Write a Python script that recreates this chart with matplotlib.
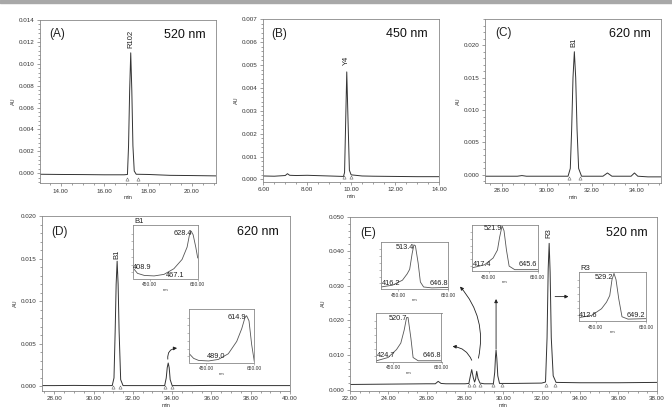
import matplotlib.pyplot as plt
from matplotlib.ticker import AutoMinorLocator
from matplotlib.patches import Rectangle

plt.rcParams['font.family'] = ['Liberation Sans', 'DejaVu Sans']

W, H = 672, 416

# ---- chromatogram traces (min, AU) ----
a_time = [13.05, 14.0, 15.0, 16.0, 16.9, 17.05, 17.1, 17.15, 17.2, 17.25, 17.3, 17.36, 17.45, 18.0, 19.0, 20.0, 21.1]
a_au = [-0.0001, -0.00012, -0.00013, -0.00015, -0.00015, -0.00012, 0.0025, 0.0075, 0.0110, 0.0075, 0.0025, 0.0002, -0.0001, -0.00012, -0.0002, -0.00022, -0.00025]
a_marks = [17.03, 17.53]

b_time = [6.0, 6.5, 7.0, 7.1, 7.2, 7.5, 8.0, 9.0, 9.65, 9.7, 9.75, 9.8, 9.86, 9.92, 10.0, 10.5, 11.0, 12.0, 13.0, 14.0]
b_au = [0.00015, 0.00014, 0.00017, 0.00025, 0.00018, 0.00017, 0.00018, 0.00015, 0.00013, 0.0003, 0.0025, 0.0047, 0.0025, 0.0004, 0.0002, 0.00015, 0.00014, 0.00013, 0.00012, 0.00012]
b_marks = [9.69, 9.99]

c_time = [27.26, 28.0, 28.7, 28.9, 29.1, 30.0, 30.95, 31.05, 31.11, 31.17, 31.23, 31.29, 31.35, 31.42, 31.55, 32.0, 32.5, 32.7, 32.9, 33.6, 33.75, 33.9, 34.05, 34.5, 35.08]
c_au = [-0.0002, -0.0002, -0.0002, -0.0001, -0.0002, -0.0002, -0.0002, 0.0010, 0.0070, 0.0150, 0.0190, 0.0150, 0.0070, 0.0010, -0.0002, -0.0002, -0.0002, 0.0003, -0.0002, -0.0002, -0.0002, 0.0003, -0.0002, -0.0003, -0.0003]
c_marks = [30.99, 31.48]

d_time = [27.36, 28.0, 29.0, 30.0, 30.95, 31.04, 31.1, 31.15, 31.2, 31.25, 31.3, 31.38, 31.5, 32.0, 33.0, 33.62, 33.7, 33.75, 33.8, 33.85, 33.9, 34.0, 35.0, 36.0, 38.0, 40.0]
d_au = [0.0001, 0.0001, 0.00012, 0.0001, 0.0001, 0.0010, 0.0065, 0.0120, 0.0147, 0.0120, 0.0065, 0.0008, 0.0001, 0.0001, 0.0001, 0.0001, 0.0010, 0.0022, 0.00275, 0.0022, 0.0008, 0.0001, 0.0001, 0.00012, 0.0001, 0.0001]
d_marks = [30.99, 31.37, 33.62, 33.97]

e_time = [22.0, 24.0, 26.0, 26.45, 26.6, 26.75, 27.0, 28.0, 28.2, 28.28, 28.35, 28.43, 28.5, 28.55, 28.61, 28.68, 28.78, 29.0, 29.48, 29.55, 29.59, 29.62, 29.66, 29.71, 29.8, 30.5, 32.0, 32.2, 32.28, 32.34, 32.39, 32.44, 32.5, 32.6, 32.75, 34.0, 36.0, 38.0]
e_au = [0.0015, 0.0016, 0.0017, 0.0017, 0.0024, 0.0018, 0.0017, 0.0017, 0.0018, 0.0040, 0.0058, 0.0035, 0.0022, 0.0030, 0.0053, 0.0032, 0.0019, 0.0017, 0.0017, 0.0050, 0.0095, 0.0115, 0.0090, 0.0040, 0.0018, 0.0018, 0.0019, 0.0022, 0.0150, 0.0350, 0.0423, 0.0340, 0.0150, 0.0040, 0.0021, 0.0020, 0.0020, 0.0021]
e_marks = [28.19, 28.45, 28.8, 29.45, 29.91, 32.2, 32.7]

# ---- UV-vis spectra for the insets (nm, relative absorbance) ----
d1_nm = [384, 400, 428, 469, 510, 551, 585, 606, 617, 623, 631, 642, 650]
d1_ab = [0.17, 0.08, 0.04, 0.03, 0.06, 0.17, 0.35, 0.59, 0.86, 0.90, 0.83, 0.59, 0.38]
d2_nm = [380, 398, 419, 460, 501, 542, 577, 598, 611, 618, 628, 639, 650]
d2_ab = [0.15, 0.06, 0.02, 0.01, 0.04, 0.15, 0.39, 0.64, 0.85, 0.89, 0.79, 0.33, 0.0]
e1_nm = [380, 426, 466, 485, 495, 505, 512, 518, 529, 538, 551, 584, 650]
e1_ab = [0.02, 0.06, 0.17, 0.31, 0.41, 0.76, 0.95, 0.93, 0.55, 0.13, 0.02, 0.0, 0.01]
e2_nm = [380, 428, 463, 481, 495, 505, 511, 523, 532, 553, 650]
e2_ab = [0.0, 0.07, 0.24, 0.38, 0.66, 0.93, 0.93, 0.48, 0.07, 0.0, 0.0]
e3_nm = [380, 432, 467, 485, 494, 504, 512, 522, 533, 556, 650]
e3_ab = [0.05, 0.12, 0.27, 0.45, 0.74, 0.99, 0.88, 0.45, 0.09, 0.01, 0.01]
e4_nm = [380, 433, 472, 492, 505, 514, 522, 530, 541, 554, 578, 650]
e4_ab = [0.05, 0.10, 0.24, 0.38, 0.52, 0.86, 0.99, 0.86, 0.45, 0.07, 0.02, 0.03]

TRACE = '#333333'
SPINE = '#888888'


def px_rect(left, top, right, bottom):
    return [left / W, 1 - bottom / H, (right - left) / W, (bottom - top) / H]


def style_main(ax, xlim, ylim, xticks, yticks):
    ax.set_xlim(xlim)
    ax.set_ylim(ylim)
    ax.set_xticks(xticks)
    ax.set_xticklabels([f"{t:.2f}" for t in xticks])
    ax.set_yticks(yticks)
    ax.set_yticklabels([f"{v:.3f}" for v in yticks])
    ax.xaxis.set_minor_locator(AutoMinorLocator(4))
    ax.yaxis.set_minor_locator(AutoMinorLocator(5))
    ax.tick_params(which='both', direction='out', width=0.5, color='#777777',
                   labelsize=4.5, labelcolor='#333333', pad=1.5)
    ax.tick_params(which='major', length=2.5)
    ax.tick_params(which='minor', length=1.5)
    for s in ax.spines.values():
        s.set_color(SPINE)
        s.set_linewidth(0.6)
    ax.set_xlabel('min', fontsize=4, labelpad=1, color='#333333')
    ax.set_ylabel('AU', fontsize=4, labelpad=2, color='#333333')


def trace(ax, t, v, marks, mark_y):
    ax.plot(t, v, color=TRACE, lw=0.7)
    ax.plot(marks, [mark_y] * len(marks), ls='none', marker='^', ms=2.3,
            mfc='white', mec='#666666', mew=0.4)


def tags(ax, letter, nm, x_letter, y_letter, x_nm, y_nm):
    ax.text(x_letter, y_letter, letter, transform=ax.transAxes, fontsize=8.5,
            ha='left', va='center', color='#222222')
    ax.text(x_nm, y_nm, nm, transform=ax.transAxes, fontsize=9,
            ha='right', va='center', color='#111111')


def peak_name(ax, x, y, name):
    ax.text(x, y, name, rotation=90, ha='center', va='bottom', fontsize=5.5,
            color='#222222')


def spectrum(box, nm, ab, labels, title=None):
    ax = fig.add_axes(px_rect(*box))
    ax.plot(nm, ab, color='#555555', lw=0.6)
    ax.set_xlim(380, 650)
    ax.set_ylim(-0.02, 1.02)
    ax.set_xticks([450, 650])
    ax.set_xticklabels(['450.00', '650.00'])
    ax.set_yticks([0.1, 0.25, 0.4, 0.55, 0.7, 0.85])
    ax.set_yticklabels([])
    ax.tick_params(axis='x', length=1.2, width=0.4, color='#888888',
                   labelsize=3.5, labelcolor='#333333', pad=1.5)
    ax.tick_params(axis='y', length=1.2, width=0.4, color='#888888')
    for s in ax.spines.values():
        s.set_color(SPINE)
        s.set_linewidth(0.6)
    ax.set_xlabel('nm', fontsize=3, labelpad=0.5, color='#333333')
    for x, y, txt, ha in labels:
        ax.text(x, y, txt, ha=ha, va='center', fontsize=5.3, color='#222222')
    if title:
        ax.text(0.03, 1.0, title, transform=ax.transAxes, ha='left', va='bottom',
                fontsize=5.5, color='#222222')
    return ax


def arrow(ax, start, end, rad=0.0):
    ax.annotate('', xy=end, xytext=start, annotation_clip=False,
                arrowprops=dict(arrowstyle='-|>', color='#222222', lw=0.6,
                                mutation_scale=5, shrinkA=0, shrinkB=0,
                                connectionstyle=f'arc3,rad={rad}'))


fig = plt.figure(figsize=(W / 100, H / 100), dpi=100)
fig.patches.append(Rectangle((0, 1 - 3 / H), 1, 3 / H, transform=fig.transFigure,
                             color='#a8a8a8', zorder=0))

# (A)
ax_a = fig.add_axes(px_rect(40, 20, 216, 183))
trace(ax_a, a_time, a_au, a_marks, -0.0005)
style_main(ax_a, (13.05, 21.1), (-0.0009, 0.014), [14, 16, 18, 20],
           [0, 0.002, 0.004, 0.006, 0.008, 0.010, 0.012, 0.014])
peak_name(ax_a, 17.2, 0.0114, 'R102')
tags(ax_a, '(A)', '520 nm', 0.05, 0.915, 0.94, 0.91)

# (B)
ax_b = fig.add_axes(px_rect(263.3, 19.3, 439, 181.7))
trace(ax_b, b_time, b_au, b_marks, 0.0001)
style_main(ax_b, (6, 14), (-0.0001, 0.007), [6, 8, 10, 12, 14],
           [0, 0.001, 0.002, 0.003, 0.004, 0.005, 0.006, 0.007])
peak_name(ax_b, 9.8, 0.0050, 'Y4')
tags(ax_b, '(B)', '450 nm', 0.048, 0.91, 0.936, 0.91)

# (C)
ax_c = fig.add_axes(px_rect(485, 19.3, 661, 182.7))
trace(ax_c, c_time, c_au, c_marks, -0.0005)
style_main(ax_c, (27.26, 35.08), (-0.0012, 0.024), [28, 30, 32, 34],
           [0, 0.005, 0.010, 0.015, 0.020])
peak_name(ax_c, 31.23, 0.0198, 'B1')
tags(ax_c, '(C)', '620 nm', 0.057, 0.915, 0.943, 0.91)

# (D)
ax_d = fig.add_axes(px_rect(41.7, 216, 290, 390.7))
trace(ax_d, d_time, d_au, d_marks, -0.0001)
style_main(ax_d, (27.36, 40), (-0.0005, 0.020), [28, 30, 32, 34, 36, 38, 40],
           [0, 0.005, 0.010, 0.015, 0.020])
peak_name(ax_d, 31.2, 0.0149, 'B1')
tags(ax_d, '(D)', '620 nm', 0.04, 0.91, 0.953, 0.91)
arrow(ax_d, (33.78, 0.0032), (34.25, 0.0045), rad=-0.5)

# (E)
ax_e = fig.add_axes(px_rect(350, 216.7, 656.7, 390.7))
trace(ax_e, e_time, e_au, e_marks, 0.0013)
style_main(ax_e, (22, 38), (-0.0003, 0.050), [22, 24, 26, 28, 30, 32, 34, 36, 38],
           [0, 0.010, 0.020, 0.030, 0.040, 0.050])
peak_name(ax_e, 32.39, 0.0438, 'R3')
tags(ax_e, '(E)', '520 nm', 0.033, 0.908, 0.97, 0.905)
arrow(ax_e, (28.35, 0.0085), (27.35, 0.0125), rad=0.3)
arrow(ax_e, (28.7, 0.0091), (27.74, 0.0298), rad=0.25)
arrow(ax_e, (29.62, 0.0118), (29.62, 0.0262))
arrow(ax_e, (32.7, 0.0269), (33.4, 0.0269))

# spectra insets
spectrum((132.7, 225, 197.7, 278.5), d1_nm, d1_ab,
         [(626, 0.86, '628.4', 'right'), (382, 0.2, '408.9', 'left'),
          (518, 0.04, '467.1', 'left')], title='B1')
spectrum((189.3, 309, 254.3, 362.5), d2_nm, d2_ab,
         [(616, 0.86, '614.9', 'right'), (455, 0.1, '489.0', 'left')])
spectrum((381, 241.7, 448.3, 288.8), e1_nm, e1_ab,
         [(511, 0.9, '513.4', 'right'), (382, 0.1, '416.2', 'left'),
          (648, 0.1, '646.8', 'right')])
spectrum((376.5, 313.3, 441.5, 361.7), e2_nm, e2_ab,
         [(508, 0.9, '520.7', 'right'), (382, 0.12, '424.7', 'left'),
          (648, 0.12, '646.8', 'right')])
spectrum((472, 224.5, 537.5, 271), e3_nm, e3_ab,
         [(503, 0.92, '521.9', 'right'), (382, 0.12, '417.4', 'left'),
          (648, 0.12, '645.6', 'right')])
spectrum((578.5, 272, 646, 321), e4_nm, e4_ab,
         [(520, 0.9, '529.2', 'right'), (382, 0.1, '412.6', 'left'),
          (648, 0.1, '649.2', 'right')], title='R3')

fig.savefig('out.png', dpi=100)
